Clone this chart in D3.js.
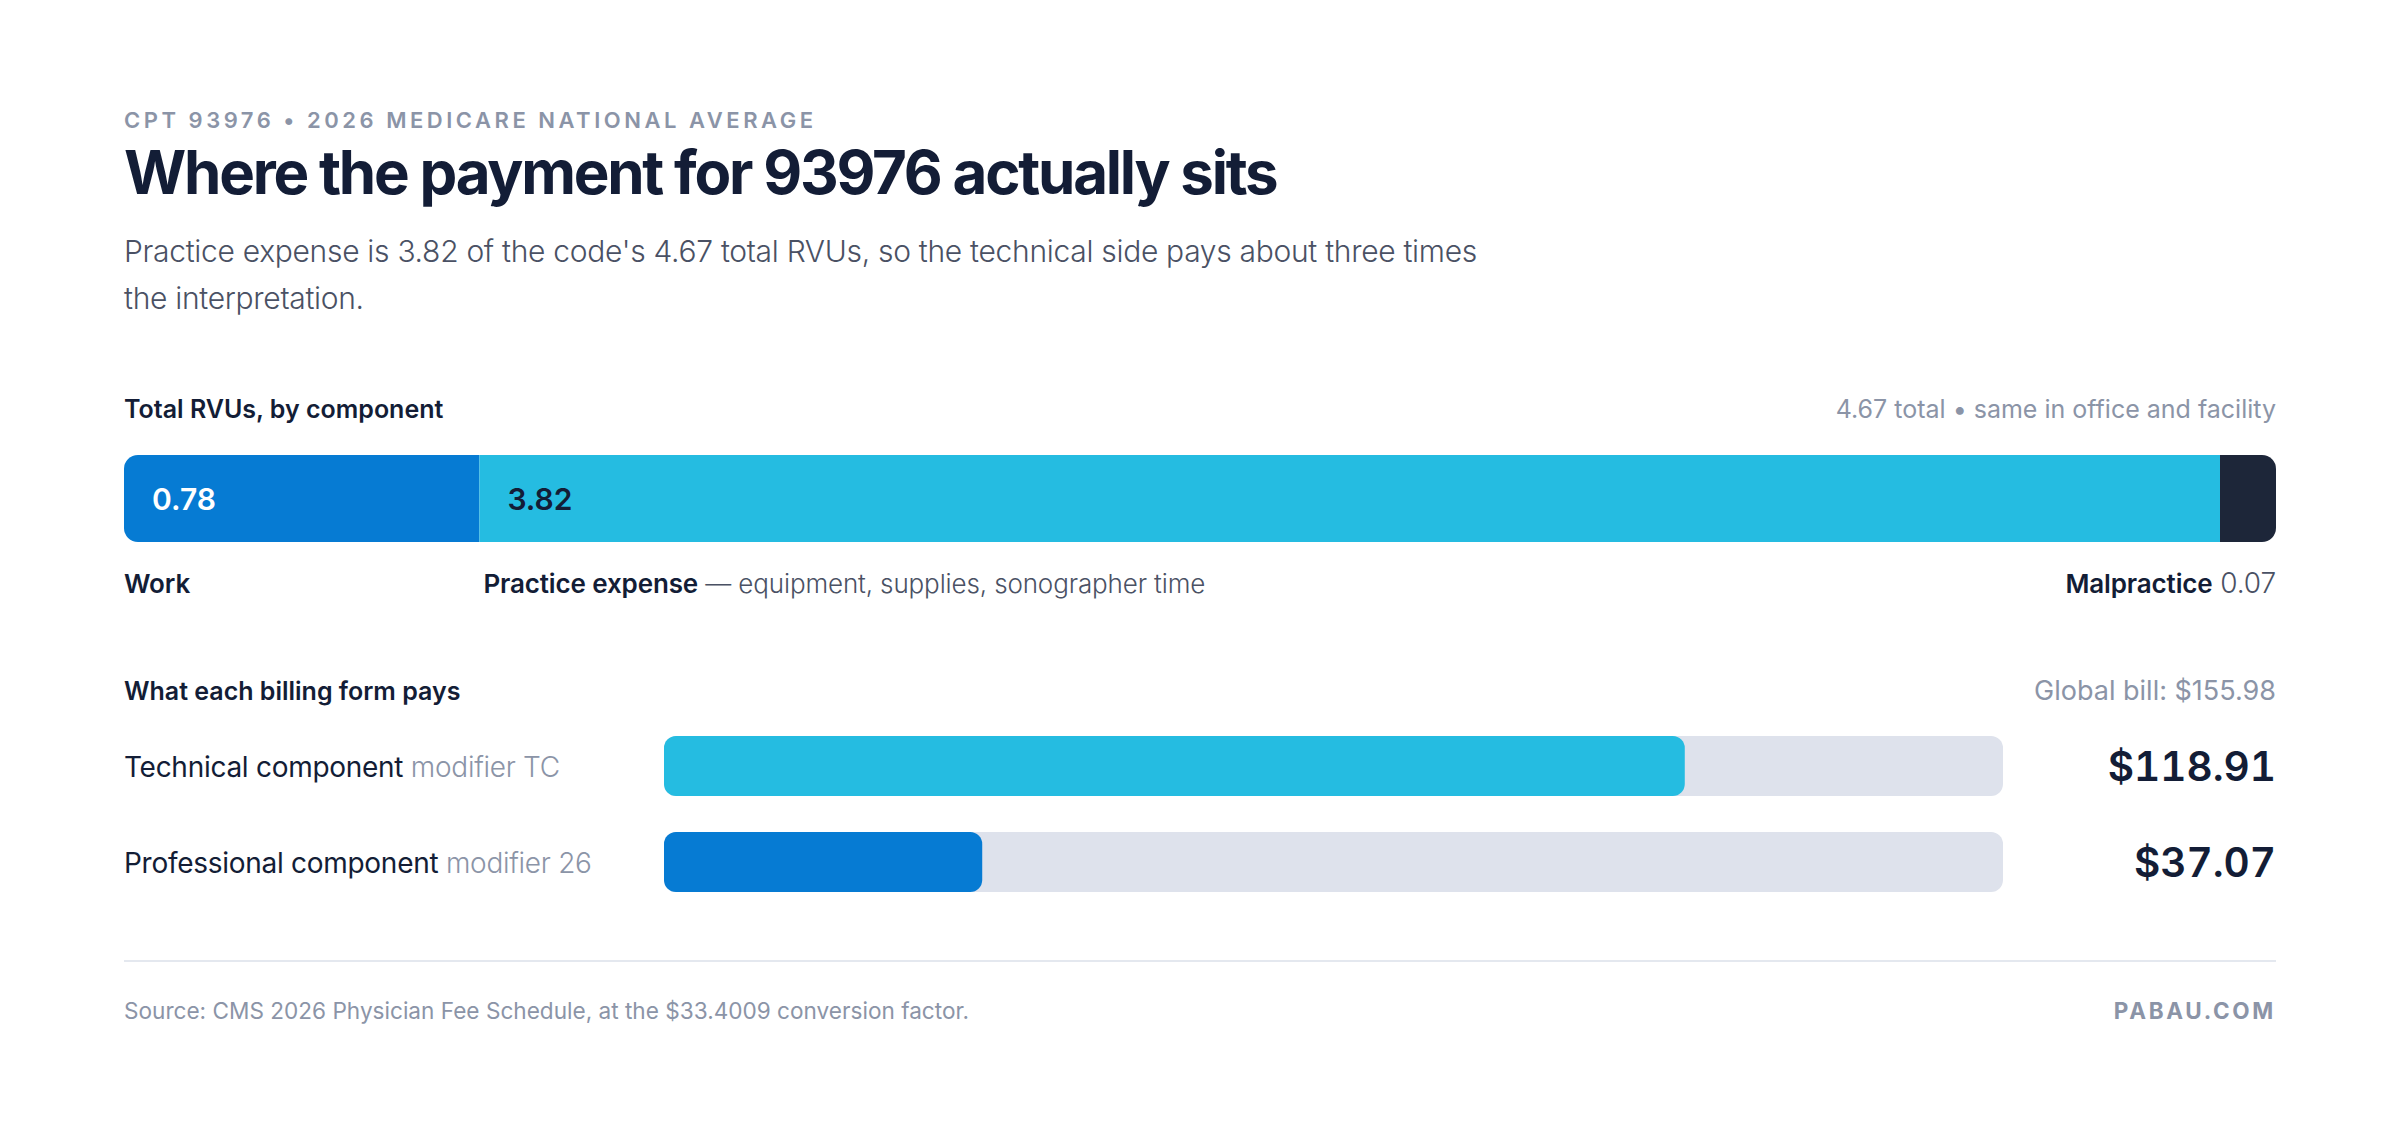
<!DOCTYPE html>
<html>
<head>
<meta charset="utf-8">
<script src="https://cdn.jsdelivr.net/npm/d3@7/dist/d3.min.js"></script>
<style>
  html, body { margin: 0; padding: 0; background: #ffffff; }
  svg { display: block; font-family: Inter, "Noto Sans", sans-serif; }
</style>
</head>
<body>
<svg id="chart" width="2400" height="1130"></svg>
<script>
// ---- data ----
const kicker = "CPT 93976 • 2026 MEDICARE NATIONAL AVERAGE";
const title = "Where the payment for 93976 actually sits";
const subtitleLines = [
  "Practice expense is 3.82 of the code's 4.67 total RVUs, so the technical side pays about three times",
  "the interpretation."
];
const rvuComponents = ["Work", "Practice expense", "Malpractice"];
const rvuValues = [0.78, 3.82, 0.07];
const rvuNotes = ["", " — equipment, supplies, sonographer time", " 0.07"];
const rvuTotal = 4.67;
const billingForms = ["Technical component", "Professional component"];
const billingModifiers = ["modifier TC", "modifier 26"];
const billingValues = [118.91, 37.07];
const globalBill = 155.98;
const sourceText = "Source: CMS 2026 Physician Fee Schedule, at the $33.4009 conversion factor.";
const brand = "PABAU.COM";

// ---- style ----
const C = {
  dark: "#131d36", gray: "#8b94a7", body: "#4a5164",
  work: "#067bd3", pe: "#25bce1", mp: "#1d2639",
  track: "#dee2ec", rule: "#e4e8ef"
};
const L = 124, R = 2276;

const svg = d3.select("#chart");

// header
svg.append("text").attr("x", L).attr("y", 128).text(kicker)
  .attr("fill", C.gray).attr("font-size", 22).attr("font-weight", 600)
  .attr("letter-spacing", "0.16em");
svg.append("text").attr("x", L).attr("y", 194).text(title)
  .attr("fill", C.dark).attr("font-size", 60).attr("font-weight", 700)
  .attr("letter-spacing", "-0.037em");
svg.selectAll("text.sub").data(subtitleLines).join("text").attr("class", "sub")
  .attr("x", L).attr("y", (d, i) => 262 + i * 47).text(d => d)
  .attr("fill", C.body).attr("font-size", 30).attr("font-weight", 300)
  .attr("letter-spacing", "-0.01em");

// section 1 heading
svg.append("text").attr("x", L).attr("y", 418).text("Total RVUs, by component")
  .attr("fill", C.dark).attr("font-size", 25).attr("font-weight", 600);
svg.append("text").attr("x", R).attr("y", 418).attr("text-anchor", "end")
  .text(`${rvuTotal.toFixed(2)} total • same in office and facility`)
  .attr("fill", C.gray).attr("font-size", 25).attr("font-weight", 400);

// stacked bar with min segment width
const barY = 455, barH = 87, minSeg = 56;
const fullW = R - L;
const rvuData = rvuComponents.map((c, i) => ({ name: c, value: rvuValues[i], note: rvuNotes[i] }));
const raw = d3.scaleLinear().domain([0, d3.sum(rvuValues)]).range([0, fullW]);
const small = rvuData.filter(d => raw(d.value) < minSeg);
const big = rvuData.filter(d => raw(d.value) >= minSeg);
const xBig = d3.scaleLinear().domain([0, d3.sum(big, d => d.value)]).range([0, fullW - small.length * minSeg]);
let acc = L;
rvuData.forEach(d => {
  d.w = raw(d.value) < minSeg ? minSeg : xBig(d.value);
  d.x = acc; acc += d.w;
});
const segColor = d3.scaleOrdinal().domain(rvuComponents).range([C.work, C.pe, C.mp]);

svg.append("clipPath").attr("id", "barclip").append("rect")
  .attr("x", L).attr("y", barY).attr("width", fullW).attr("height", barH).attr("rx", 14);
const gBar = svg.append("g").attr("clip-path", "url(#barclip)");
gBar.selectAll("rect").data(rvuData).join("rect")
  .attr("x", d => d.x).attr("y", barY).attr("width", d => d.w).attr("height", barH)
  .attr("fill", d => segColor(d.name));
svg.selectAll("text.segval").data(rvuData.filter(d => d.w > 150)).join("text").attr("class", "segval")
  .attr("x", d => d.x + 28).attr("y", 510).text(d => d.value.toFixed(2))
  .attr("fill", (d, i) => i === 0 ? "#ffffff" : C.dark)
  .attr("font-size", 30).attr("font-weight", 600);

// labels under bar
rvuData.forEach((d, i) => {
  const last = i === rvuData.length - 1;
  const t = svg.append("text").attr("y", 593).attr("font-size", 26)
    .attr("letter-spacing", "-0.005em")
    .attr("x", last ? R : (i === 0 ? d.x : d.x + 4))
    .attr("text-anchor", last ? "end" : "start");
  t.append("tspan").text(d.name).attr("fill", C.dark).attr("font-weight", 600);
  if (d.note) t.append("tspan").text(d.note).attr("fill", C.body).attr("font-weight", 300)
    .attr("font-size", last ? 28 : 26);
});

// section 2
svg.append("text").attr("x", L).attr("y", 700).text("What each billing form pays")
  .attr("fill", C.dark).attr("font-size", 25).attr("font-weight", 600);
svg.append("text").attr("x", R).attr("y", 700).attr("text-anchor", "end")
  .text(`Global bill: $${globalBill.toFixed(2)}`)
  .attr("fill", C.gray).attr("font-size", 27).attr("font-weight", 400);

const billData = billingForms.map((f, i) => ({ form: f, mod: billingModifiers[i], value: billingValues[i] }));
const xBill = d3.scaleLinear().domain([0, globalBill]).range([664, 2003]);
const yBill = d3.scaleBand().domain(billingForms).range([736, 892]).paddingInner(0.375).paddingOuter(0);
const billColor = d3.scaleOrdinal().domain(billingForms).range([C.pe, C.work]);

const rows = svg.selectAll("g.row").data(billData).join("g").attr("class", "row");
rows.append("rect").attr("x", xBill(0)).attr("y", d => yBill(d.form))
  .attr("width", xBill(globalBill) - xBill(0)).attr("height", yBill.bandwidth())
  .attr("rx", 12).attr("fill", C.track);
rows.append("rect").attr("x", xBill(0)).attr("y", d => yBill(d.form))
  .attr("width", d => xBill(d.value) - xBill(0)).attr("height", yBill.bandwidth())
  .attr("rx", 12).attr("fill", d => billColor(d.form));
const lab = rows.append("text").attr("x", L)
  .attr("y", d => yBill(d.form) + yBill.bandwidth() / 2 + 11).attr("font-size", 28)
  .attr("letter-spacing", "-0.01em");
lab.append("tspan").text(d => d.form).attr("fill", C.dark).attr("font-weight", 400);
lab.append("tspan").text(d => " " + d.mod).attr("fill", C.gray).attr("font-weight", 300);
rows.append("text").attr("x", R).attr("text-anchor", "end")
  .attr("y", d => yBill(d.form) + yBill.bandwidth() / 2 + 15)
  .text(d => "$" + d.value.toFixed(2))
  .style("font-variant-numeric", "tabular-nums")
  .attr("fill", C.dark).attr("font-size", 40.5).attr("font-weight", 600);

// footer
svg.append("line").attr("x1", L).attr("x2", R).attr("y1", 961).attr("y2", 961)
  .attr("stroke", C.rule).attr("stroke-width", 2);
svg.append("text").attr("x", L).attr("y", 1019).text(sourceText)
  .attr("fill", C.gray).attr("font-size", 22.6).attr("font-weight", 400);
svg.append("text").attr("x", R).attr("y", 1019).attr("text-anchor", "end").text(brand)
  .attr("fill", C.gray).attr("font-size", 22.5).attr("font-weight", 700)
  .attr("letter-spacing", "0.12em");
</script>
</body>
</html>
